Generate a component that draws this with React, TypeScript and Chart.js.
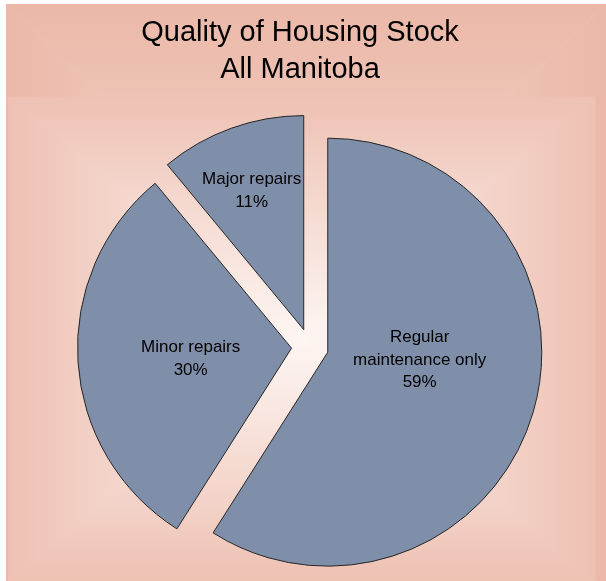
import React, { useEffect, useRef } from 'react';
import { Chart, registerables, ArcElement } from 'chart.js';

Chart.register(...registerables);

// ---- data ----
const categories = ['Regular maintenance only', 'Minor repairs', 'Major repairs'];
const labelLines = [['Regular', 'maintenance only'], ['Minor repairs'], ['Major repairs']];
const values = [59, 30, 11];
const titleLines = ['Quality of Housing Stock', 'All Manitoba'];

// ---- styles ----
const FONT = '"Liberation Sans", Arial, Helvetica, sans-serif';
const SLICE_COLOR = '#808FA9';
const SLICE_BORDER = '#262626';
const EXPLODE = 18.5;
const RADIUS = 214;
const PIE_SHIFT_X = 10;
const LABEL_FRAC = [0.431, 0.474, 0.692];
const LABEL_SHIFT_DEG = [-11.3, -2.5, -0.8];
const LABEL_FONT_SIZE = 17;
const LABEL_LINE_H = 22.5;

class ExplodedArc extends ArcElement {
  static id = 'explodedArc';
  draw(ctx: CanvasRenderingContext2D) {
    const half = (this.startAngle + this.endAngle) / 2;
    ctx.save();
    ctx.translate(Math.cos(half) * EXPLODE, Math.sin(half) * EXPLODE);
    super.draw(ctx);
    ctx.restore();
  }
}
Chart.register(ExplodedArc);
(Chart.defaults as any).datasets.pie.dataElementType = 'explodedArc';

function rectGradient(
  ctx: CanvasRenderingContext2D,
  x0: number, y0: number, x1: number, y1: number,
  edge: string, center: string
) {
  const cx = (x0 + x1) / 2;
  const cy = (y0 + y1) / 2;
  const tris: number[][] = [
    [x0, y0, x1, y0, cx, y0, cx, cy],
    [x1, y0, x1, y1, x1, cy, cx, cy],
    [x1, y1, x0, y1, cx, y1, cx, cy],
    [x0, y1, x0, y0, x0, cy, cx, cy],
  ];
  for (const t of tris) {
    ctx.save();
    ctx.beginPath();
    ctx.moveTo(t[0], t[1]);
    ctx.lineTo(t[2], t[3]);
    ctx.lineTo(cx, cy);
    ctx.closePath();
    const g = ctx.createLinearGradient(t[4], t[5], t[6], t[7]);
    g.addColorStop(0, edge);
    g.addColorStop(1, center);
    ctx.fillStyle = g;
    ctx.fill();
    ctx.strokeStyle = g;
    ctx.lineWidth = 0.8;
    ctx.stroke();
    ctx.restore();
  }
}

const backgroundPlugin = {
  id: 'rectBackground',
  beforeDraw(chart: any) {
    const { ctx, width, height } = chart;
    rectGradient(ctx, 0, 0, width, height, '#EBB8A8', '#F5D8CE');
    rectGradient(ctx, 2, 93, 589, height, '#EEC1B3', '#FDF6F3');
  },
};

// title is centred on the full width, the pie sits a little to the right of it
const pieShiftPlugin = {
  id: 'pieShift',
  afterLayout(chart: any) {
    chart.chartArea.left += PIE_SHIFT_X;
    chart.chartArea.right += PIE_SHIFT_X;
  },
};

const sliceLabelPlugin = {
  id: 'sliceLabels',
  afterDatasetsDraw(chart: any) {
    const ctx: CanvasRenderingContext2D = chart.ctx;
    const meta = chart.getDatasetMeta(0);
    const total = values.reduce((a, b) => a + b, 0);
    ctx.save();
    ctx.fillStyle = '#000';
    ctx.font = `${LABEL_FONT_SIZE}px ${FONT}`;
    ctx.textAlign = 'center';
    ctx.textBaseline = 'middle';
    meta.data.forEach((arc: any, i: number) => {
      const mid = (arc.startAngle + arc.endAngle) / 2;
      const ex = arc.x + Math.cos(mid) * EXPLODE;
      const ey = arc.y + Math.sin(mid) * EXPLODE;
      const a = mid + (LABEL_SHIFT_DEG[i] * Math.PI) / 180;
      const r = LABEL_FRAC[i] * arc.outerRadius;
      const lx = ex + Math.cos(a) * r;
      const ly = ey + Math.sin(a) * r;
      const lines = [...labelLines[i], `${Math.round((values[i] / total) * 100)}%`];
      lines.forEach((line, k) => {
        ctx.fillText(line, lx, ly + (k - (lines.length - 1) / 2) * LABEL_LINE_H);
      });
    });
    ctx.restore();
  },
};

export default function App() {
  const canvasRef = useRef<HTMLCanvasElement | null>(null);

  useEffect(() => {
    if (!canvasRef.current) return;
    const chart = new Chart(canvasRef.current, {
      type: 'pie',
      data: {
        labels: categories,
        datasets: [
          {
            data: values,
            backgroundColor: SLICE_COLOR,
            borderColor: SLICE_BORDER,
            borderWidth: 1,
            radius: RADIUS,
          } as any,
        ],
      },
      options: {
        responsive: false,
        animation: false,
        events: [],
        layout: { padding: { left: 0, right: 12, top: 0, bottom: 0 } },
        plugins: {
          legend: { display: false },
          tooltip: { enabled: false },
          title: {
            display: true,
            text: titleLines,
            color: '#000',
            font: { family: FONT, size: 29, weight: 'normal', lineHeight: 37 / 29 },
            padding: { top: 10, bottom: 25 },
          },
        },
      },
      plugins: [backgroundPlugin, pieShiftPlugin, sliceLabelPlugin],
    });
    return () => chart.destroy();
  }, []);

  return (
    <div style={{ position: 'absolute', left: 6, top: 4, width: 600, height: 577 }}>
      <canvas ref={canvasRef} width={600} height={577} />
    </div>
  );
}
